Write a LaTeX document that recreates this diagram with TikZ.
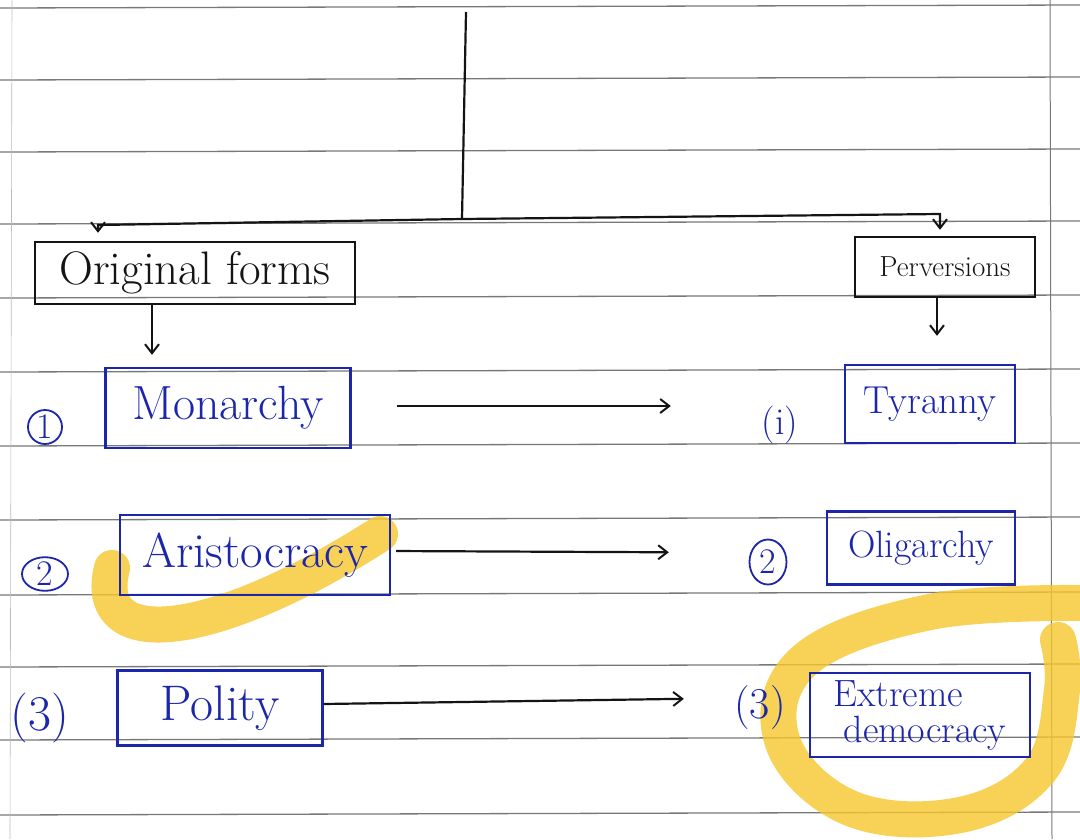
\documentclass[tikz,border=0pt]{standalone}
\usepackage{fontspec}
\usetikzlibrary{arrows.meta,calc,shapes.geometric}
\definecolor{ink}{RGB}{20,20,20}
\definecolor{blueink}{RGB}{28,38,170}
\definecolor{hl}{RGB}{247,198,45}
\definecolor{rulecol}{RGB}{120,120,120}
\begin{document}
\begin{tikzpicture}[x=1pt,y=-1pt,
  inkline/.style={draw=ink, line width=2.2pt},
  arr/.style={-{Straight Barb[length=9pt,width=14pt,line width=2pt]}},
  blackbox/.style={draw=ink, line width=2.4pt, inner sep=0pt, text=ink},
  bluebox/.style={draw=blueink, line width=2.4pt, inner sep=0pt, text=blueink},
  numlab/.style={text=blueink, inner sep=0pt},
  circnum/.style={text=blueink, inner sep=0pt, draw=blueink, line width=1.8pt, font=\fontsize{36}{36}\selectfont},
  ruled/.style={draw=rulecol, line width=1.3pt},
  highlight/.style={draw=hl, line width=36pt, line cap=round, line join=round, opacity=0.8}
]
\useasboundingbox (0,0) rectangle (1080,839);
\fill[white] (0,0) rectangle (1080,839);
% ruled paper
\foreach \yy in {8,80,152,224,298,372,446,520,595,667,740,815}
  \draw[ruled] (0,\yy) -- (1080,\yy-3);
\draw[draw=rulecol, line width=1pt] (1050,0) -- (1052,839);
\draw[draw=rulecol!50, line width=0.6pt] (12,0) -- (10,839);
% highlighter strokes
\draw[highlight] (112,568) .. controls (90,655) and (215,640) .. (380,534);
\draw[highlight] plot[smooth, tension=0.65] coordinates
  {(1080,603) (930,612) (805,660) (782,740) (850,808) (960,815) (1040,770) (1062,690) (1058,640)};
% nodes
\node[blackbox, minimum width=320pt, minimum height=62pt, font=\fontsize{47}{47}\selectfont] (orig) at (195,273)
  {Original forms};
\node[blackbox, minimum width=180pt, minimum height=60pt, font=\fontsize{29}{29}\selectfont] (perv) at (945,267)
  {Perversions};
\node[bluebox, minimum width=245pt, minimum height=80pt, font=\fontsize{48}{48}\selectfont] (mon) at (228,408)
  {Monarchy};
\node[bluebox, minimum width=170pt, minimum height=78pt, font=\fontsize{39}{39}\selectfont] (tyr) at (930,404)
  {Tyranny};
\node[bluebox, minimum width=270pt, minimum height=80pt, font=\fontsize{49}{49}\selectfont] (ari) at (255,555)
  {Aristocracy};
\node[bluebox, minimum width=188pt, minimum height=73pt, font=\fontsize{38}{38}\selectfont] (oli) at (921,548)
  {Oligarchy};
\node[bluebox, minimum width=205pt, minimum height=75pt, font=\fontsize{50}{50}\selectfont] (pol) at (220,708)
  {Polity};
\node[bluebox, minimum width=220pt, minimum height=84pt, align=left, font=\fontsize{38}{36}\selectfont] (ext) at (920,715)
  {Extreme\\\hspace*{10pt}democracy};
% numbering
\node[circnum, circle, minimum size=34pt] (n1) at (45,427) {1};
\node[circnum, ellipse, minimum width=46pt, minimum height=32pt] (n2) at (45,574) {2};
\node[numlab, font=\fontsize{50}{50}\selectfont] (n3) at (40,718) {(3)};
\node[numlab, font=\fontsize{38}{38}\selectfont] (p1) at (780,425) {(i)};
\node[circnum, ellipse, minimum width=37pt, minimum height=45pt] (p2) at (768,562) {2};
\node[numlab, font=\fontsize{44}{44}\selectfont] (p3) at (760,708) {(3)};
% trunk and branches
\coordinate (top) at (466,12);
\coordinate (j) at (462,219);
\coordinate (lc) at (98,225);
\coordinate (rc) at (940,214);
\draw[inkline] (top) -- (j);
\draw[inkline, arr, shorten >=8pt] (j) -- (lc) -- (lc |- orig.north);
\draw[inkline, arr, shorten >=6pt] (j) -- (rc) -- (rc |- perv.north);
% down arrows
\draw[inkline, arr, shorten >=12pt] ([xshift=-43pt]orig.south) -- ([xshift=-76pt]mon.north);
\draw[inkline, arr, shorten >=28pt] ([xshift=-8pt]perv.south) -- (tyr.north -| 937,0);
% horizontal arrows
\draw[inkline, arr, shorten <=45pt, shorten >=173pt] ([yshift=2pt]mon.east) -- ([yshift=2pt]mon.east -| tyr.west);
\draw[inkline, arr, shorten <=5pt, shorten >=157pt] ([yshift=4pt]ari.east) -- ([yshift=2pt]ari.east -| oli.west);
\draw[inkline, arr, shorten >=125pt] ([yshift=4pt]pol.east) -- ($(ext.west)+(0,-18)$);
\end{tikzpicture}
\end{document}
